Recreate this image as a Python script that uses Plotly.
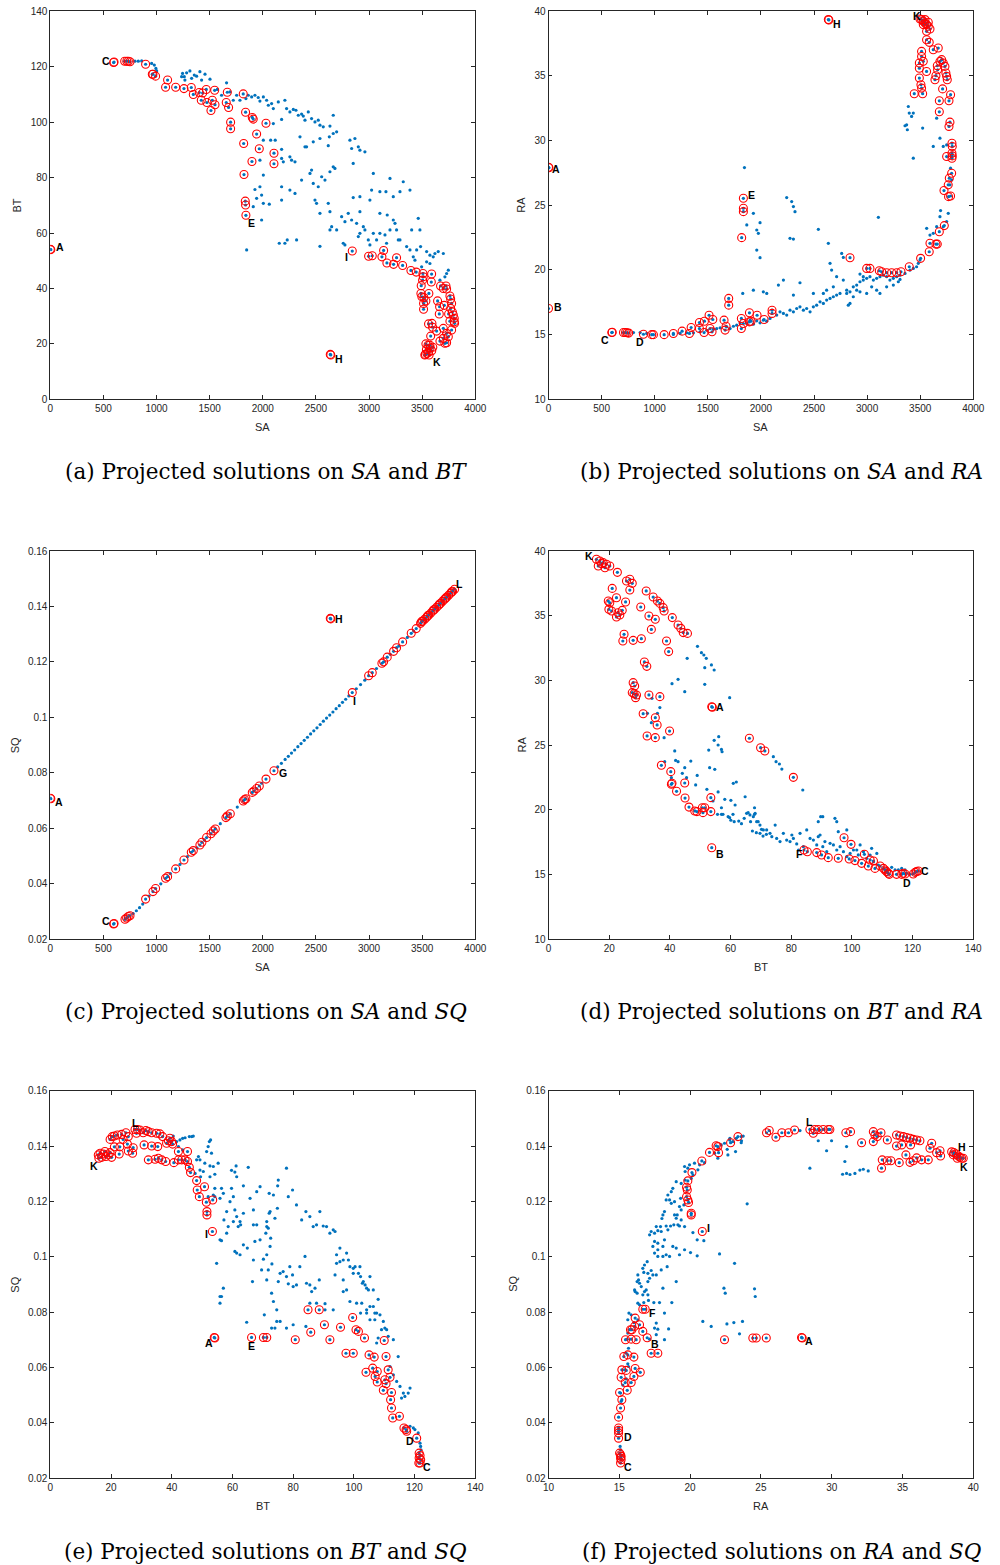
import plotly.graph_objects as go

# ---------------- data ----------------
# Panel (a): SA vs BT
A_RED = [(596,121.5),(600,121.7),(700,122),(720,122),(735,122),(750,121.8),(897,120.9),(960,117.3),(966,117.3),(991,116.6),
 (1104,115.2),(1085,112.6),(1180,112.6),(1258,112.1),(1327,112.5),(1346,110),(1402,110.7),(1434,110.5),(1468,111.8),
 (1421,107.9),(1474,107.1),(1525,107.9),(1550,106.3),(1512,104.2),(1547,111.5),(1666,110.8),(1656,107.1),(1678,105.3),
 (1816,110.2),(1838,103.6),(1901,101.7),(1910,101.1),(1697,100),(1697,97.6),(2030,99.6),(1942,95.7),(1820,92.3),
 (1967,90.4),(2105,88.8),(2105,85),(1898,85.8),(1823,81.1),(1835,71.5),(1838,70.1),(1841,66.4),(0,54.1),(5,54.0),
 (2635,16.2),(2640,16.0),(2842,53.5),(2996,51.6),(3030,51.8),(3121,51.4),(3137,53.7),(3168,49.2),(3231,48.7),(3259,51.1),
 (3316,48.3),(3394,46.5),(3444,45.9),(3507,45.4),(3510,44.2),(3504,43),(3589,45.2),(3586,42.3),(3491,41),(3488,38.2),
 (3497,37),(3516,36.7),(3535,35.5),(3513,34.6),(3513,32.5),(3563,38.2),(3645,35.5),(3664,33.4),(3661,30.8),(3708,33.9),
 (3699,40),(3724,40.9),(3730,39.8),(3673,40.9),(3761,37.3),(3768,36.2),(3777,34.6),(3768,32.8),(3784,31.5),(3793,30.4),
 (3749,30.8),(3802,29.2),(3802,28),(3805,27.4),(3761,28.2),(3777,25),(3699,25.6),(3636,24.6),(3598,26),(3560,27.2),
 (3592,27.4),(3580,22.8),(3730,23.8),(3746,22.6),(3699,22),(3667,21),(3714,20.2),(3730,20.4),(3535,20),(3573,19.5),
 (3530,16.2),(3545,16.5),(3560,17),(3540,18),(3575,18.5),(3555,19.5),(3590,17.5),(3525,16.0),(3565,16.0),(3600,18.8)]
A_BLUE = [(797,122.0),(828,122.0),(860,122.1),(954,121.2),(979,120.6),(994,119.4),(1001,118.5),(1245,117.6),(1261,116.4),
 (1283,117.8),(1314,118.5),(1330,115.8),(1355,117.0),(1377,116.6),(1408,118.2),(1424,115.2),(1456,117.3),(1503,115.5),
 (1236,116.4),(1267,115.2),(1572,111.8),(1612,109.7),(1659,114.2),(1691,110.9),(1722,107.9),(1754,109.7),(1785,107.9),
 (1841,108.5),(1863,109.7),(1895,109.1),(1926,109.7),(1957,108.9),(1973,107.6),(2005,109.1),(2036,107.9),(2052,106.1),
 (2083,106.7),(2099,104.9),(2146,107.3),(2208,107.9),(2224,104.9),(2177,101.0),(2099,99.5),(2255,103.7),(2287,104.6),
 (2312,104.3),(2334,102.5),(2365,102.9),(2381,102.2),(2397,100.7),(2428,103.7),(2459,101.3),(2491,100.1),(2522,100.7),
 (2538,98.9),(2569,98.3),(2632,98.6),(2695,96.5),(2663,102.5),(2005,93.5),(2074,93.5),(2117,93.5),(2177,90.2),(2177,86.9),
 (2193,85.7),(2255,87.5),(2271,86.3),(2303,85.7),(2350,94.7),(2397,91.1),(2412,91.1),(2475,92.9),(2538,94.1),(2616,91.5),
 (2626,94.7),(2663,95.9),(2820,93.5),(2836,90.5),(2867,94.1),(2899,91.1),(2914,89.9),(2961,89.3),(2851,85.1),(1973,86.3),
 (2005,80.9),(1973,76.7),(1989,73.7),(1926,75.7),(1942,72.5),(1910,69.5),(2005,70.7),(2061,70.4),(1989,64.7),(1848,53.9),
 (2177,76.7),(2177,71.9),(2155,56.3),(2208,56.3),(2230,57.5),(2318,57.5),(2255,75.5),(2303,74.3),(2365,79.1),(2444,81.5),
 (2459,82.7),(2475,77.9),(2522,76.7),(2554,80.3),(2585,79.1),(2632,82.1),(2663,83.9),(2679,83.3),(2491,71.9),(2506,70.7),
 (2538,67.1),(2616,70.7),(2632,67.7),(2695,61.1),(2742,65.9),(2773,64.1),(2804,67.1),(2851,72.8),(2914,73.1),(2914,67.7),
 (2836,64.7),(2883,63.5),(2632,61.1),(2648,62.3),(2538,55.2),(2757,56.3),(2773,55.7),(2899,58.7),(2914,59.9),(2946,62.3),
 (2961,61.1),(2993,57.5),(3008,55.7),(3040,59.9),(3071,57.5),(3102,59.9),(3150,59.3),(3165,56.3),(3197,61.1),(3244,63.5),
 (3259,61.1),(3275,57.5),(3008,71.9),(3024,75.5),(3040,81.5),(3102,74.9),(3159,74.9),(3197,79.7),(3228,73.1),(3291,74.9),
 (3322,78.5),(3385,75.5),(3102,67.1),(3171,66.5),(3228,64.7),(3291,57.5),(3354,55.1),(3385,53.9),(3401,61.1),(3416,51.4),
 (3432,50.2),(3448,53.9),(3463,65.3),(3479,61.1),(3485,55.1),(3542,53.3),(3573,52.0),(3604,51.4),(3620,52.6),(3651,53.3),
 (3699,52.6),(3730,45.4),(3746,46.6),(3714,44.2),(3667,43.0),(3542,49.6),(3495,47.8),(3573,49.0)]
A_LABELS = [("C",524,122.2),("A",91,55.1),("E",1895,63.5),("I",2789,51.2),("H",2720,14.4),("K",3636,13.3)]

# Panel (b): SA vs RA
B_RED = [(0,27.94),(4,27.9),(0,17.02),(596,15.16),(600,15.18),(706,15.16),(725,15.16),(740,15.14),(755,15.12),(894,15.03),
 (972,15.0),(988,15.0),(1089,15.0),(1176,15.09),(1258,15.27),(1327,15.09),(1343,15.55),(1421,15.94),(1421,15.47),(1468,16.04),
 (1465,15.16),(1512,16.5),(1547,16.17),(1521,15.47),(1540,15.22),(1653,16.12),(1672,15.65),(1663,15.35),(1697,17.8),
 (1697,17.28),(1816,16.25),(1816,15.47),(1835,15.86),(1892,16.69),(1892,15.99),(1907,16.04),(1964,16.5),(2030,16.17),
 (2105,16.89),(2105,16.64),(1835,25.54),(1835,24.77),(1835,24.51),(1819,22.5),(2635,39.36),(2640,39.33),(2839,20.95),
 (2996,20.12),(3027,20.12),(3115,19.94),(3137,19.86),(3184,19.79),(3231,19.79),(3278,19.79),(3319,19.86),(3397,20.25),
 (3504,20.9),(3592,22.06),(3585,21.41),(3648,22.0),(3661,22.0),(3680,22.96),(3727,23.43),(3724,26.14),(3764,26.58),
 (3774,27.1),(3796,27.48),(3767,25.67),(3786,25.72),(3749,28.77),(3799,29.03),(3802,28.82),(3799,28.64),(3799,29.8),
 (3802,29.55),(3780,31.43),(3771,31.1),(3680,32.23),(3680,33.08),(3771,33.08),(3786,33.55),(3711,34.0),(3639,34.71),
 (3648,35.02),(3664,35.48),(3661,35.79),(3686,36.13),(3702,36.26),(3717,36.0),(3733,35.74),(3742,35.23),(3749,34.97),
 (3755,34.71),(3670,37.16),(3623,37.03),(3585,37.6),(3560,37.8),(3560,35.35),(3529,36.13),(3513,36.9),(3513,36.5),
 (3492,36.0),(3492,35.6),(3492,34.84),(3507,34.32),(3513,34.06),(3523,33.63),(3444,33.63),(3513,39.36),(3529,39.23),
 (3545,39.1),(3560,38.97),(3576,38.84),(3592,38.63),(3545,39.36),(3576,39.15),(3529,38.97),(3498,39.41),(3560,38.45)]
B_BLUE = [(800,15.16),(863,15.16),(925,15.09),(1176,15.01),(1239,15.09),(1302,15.14),(1365,15.14),(1427,15.22),(1490,15.34),
 (1553,15.42),(1584,15.47),(1616,15.53),(1678,15.6),(1710,15.47),(1741,15.65),(1772,15.73),(1804,15.91),(1867,15.86),
 (1898,16.12),(1929,15.81),(1961,16.07),(1992,15.91),(2023,16.12),(2055,16.04),(2086,16.25),(2149,16.51),(2180,16.76),
 (2212,16.64),(2243,16.51),(2274,16.89),(2306,16.76),(2337,17.02),(2368,17.15),(2400,16.89),(2431,17.02),(2463,16.76),
 (2494,17.15),(2525,17.28),(2557,17.54),(2588,17.41),(2619,17.67),(2651,17.8),(2682,17.93),(2713,18.06),(2745,18.19),
 (2808,18.44),(2839,18.31),(2870,18.7),(2902,18.83),(2933,19.09),(2964,19.22),(2996,19.35),(3027,19.48),(3059,19.22),
 (3090,19.35),(3121,19.48),(3153,19.6),(3184,19.48),(3215,19.22),(3247,19.35),(3278,19.48),(3310,19.6),(3357,19.73),
 (3404,19.99),(3435,20.12),(3466,20.25),(3482,20.51),(3498,20.77),(1829,18.19),(1929,18.44),(2023,18.31),(2055,18.19),
 (2165,18.83),(2212,19.22),(2306,18.06),(2368,19.01),(2494,18.19),(2588,18.19),(2619,18.44),(2682,18.7),(2713,19.48),
 (2776,19.22),(2808,18.19),(2823,17.28),(2839,17.41),(2870,17.93),(2902,18.44),(2933,19.68),(2933,18.31),(2964,19.48),
 (2996,18.19),(3043,18.7),(3090,18.44),(3121,18.19),(3184,18.7),(3247,18.83),(3294,19.09),(3310,19.27),(1867,23.48),
 (1929,24.38),(1976,22.83),(1961,23.09),(1992,23.66),(1961,21.54),(1992,20.95),(2243,25.6),(2290,25.29),(2306,24.9),
 (2321,24.51),(2274,22.45),(2306,22.39),(2541,23.14),(2635,22.06),(2651,20.51),(2666,19.99),(2761,21.28),(2776,20.97),
 (3106,24.07),(3561,23.22),(3592,22.7),(3623,22.83),(3655,23.35),(3686,24.12),(3692,24.59),(3749,23.74),(3388,32.64),
 (3397,32.13),(3372,31.22),(3379,30.84),(3357,31.15),(3419,31.87),(3435,32.13),(3523,30.97),(3435,28.64),(3655,31.74),
 (3686,30.19),(3749,29.67),(3717,29.55),(3623,29.55),(3796,26.96),(3780,26.58),(3786,27.87),(3764,24.38),(3717,23.35),
 (1845,27.92)]
B_LABELS = [("K",3466,39.62),("H",2714,39.05),("A",72,27.8),("E",1914,25.8),("B",85,17.1),("C",533,14.62),("D",863,14.4)]

# Panel (c): SA vs SQ
C_RED = [(0,0.0708),(5,0.0706),(596,0.0254),(600,0.0256),(2635,0.1357),(2640,0.1355),(703,0.0271),(718,0.0276),(734,0.0281),
 (750,0.0284),(897,0.0344),(966,0.0371),(991,0.0382),(1085,0.0419),(1104,0.0425),(1180,0.0453),(1258,0.0485),(1327,0.0513),
 (1346,0.0519),(1408,0.0539),(1427,0.0549),(1471,0.0566),(1512,0.058),(1534,0.059),(1553,0.0597),(1653,0.0638),
 (1666,0.0644),(1694,0.0652),(1816,0.0698),(1829,0.0703),(1841,0.0706),(1901,0.0729),(1917,0.0734),(1942,0.0743),
 (1967,0.0752),(2030,0.0777),(2105,0.0807),(2842,0.1089),(2996,0.115),(3030,0.1161),(3121,0.1195),(3137,0.12),
 (3171,0.1217),(3231,0.1238),(3259,0.1251),(3316,0.1272),(3397,0.1303),(3444,0.132),(3485,0.1339),(3504,0.1347),
 (3523,0.1354),(3542,0.1361),(3560,0.1368),(3579,0.1375),(3598,0.1383),(3617,0.139),(3636,0.1397),(3655,0.1404),
 (3673,0.1411),(3692,0.1419),(3711,0.1426),(3730,0.1433),(3749,0.144),(3768,0.1448),(3786,0.1455),(3805,0.1462),
 (3494,0.1345),(3551,0.1366),(3607,0.1387),(3664,0.1409),(3720,0.143),(3777,0.1452)]
C_BLUE = [(780,0.0292),(810,0.0302),(840,0.0313),(870,0.0326),(930,0.0355),(1040,0.0399),(1130,0.0436),(1220,0.0469),
 (1290,0.0497),(1380,0.0529),(1450,0.0557),(1600,0.0616),(1760,0.0676),(1990,0.0762),(2140,0.0821),(2175,0.0834),
 (2210,0.0848),(2240,0.0859),(2270,0.0871),(2300,0.0882),(2330,0.0894),(2360,0.0905),(2390,0.0917),(2420,0.0928),
 (2450,0.094),(2480,0.0951),(2510,0.0962),(2540,0.0974),(2570,0.0986),(2600,0.0997),(2630,0.1008),(2660,0.1019),
 (2690,0.1031),(2720,0.1042),(2750,0.1054),(2780,0.1065),(2810,0.1077),(2880,0.1103),(2920,0.1118),(2960,0.1134),
 (3070,0.1176),(3200,0.1227),(3280,0.1257),(3360,0.1288),(3420,0.1311)]
C_LABELS = [("L",3855,0.148),("H",2720,0.1354),("I",2867,0.1059),("G",2186,0.0798),("A",82,0.0696),("C",524,0.0265)]

# Panel (d): BT vs RA
D_RED = [(15.8,39.36),(16.9,39.23),(18.0,39.1),(19.1,38.97),(16.4,38.84),(18.6,38.71),(20.2,38.84),(17.5,39.02),(22.7,38.35),
 (25.7,37.68),(26.8,37.81),(27.6,37.5),(26.8,36.98),(21.0,37.11),(19.7,36.13),(20.2,36.0),(19.9,35.49),(20.8,35.36),
 (22.4,36.39),(22.9,35.23),(22.4,34.9),(23.5,35.05),(24.3,35.41),(25.4,36.06),(30.4,35.67),(32.2,36.91),(34.5,36.44),
 (35.9,36.13),(36.7,35.95),(37.8,35.62),(38.1,35.36),(40.8,34.85),(42.7,34.28),(43.6,34.02),(44.4,33.69),(45.8,33.63),
 (33.1,34.97),(35.2,34.72),(33.9,33.94),(24.9,33.56),(24.5,33.04),(27.9,33.09),(30.6,33.22),(38.9,33.04),(39.6,32.22),
 (31.6,31.42),(32.4,31.08),(27.9,29.82),(28.4,29.56),(27.6,29.05),(28.2,28.97),(28.7,28.66),(29.0,28.87),(33.1,28.87),
 (36.7,28.74),(31.2,27.42),(35.2,27.11),(35.8,26.55),(39.9,26.08),(32.5,25.7),(35.2,25.57),(53.8,27.96),(54.0,27.92),
 (66.2,25.52),(69.9,24.79),(71.3,24.54),(37.2,23.43),(40.3,22.94),(40.5,21.96),(40.7,22.04),(42.2,21.42),(44.9,22.06),
 (45.0,20.9),(46.3,20.2),(48.2,19.9),(48.9,19.85),(50.7,20.15),(51.5,20.15),(50.9,19.77),(53.5,20.93),(53.5,19.85),
 (53.8,17.06),(80.7,22.5),(84.2,16.88),(85.3,16.75),(88.4,16.68),(90.0,16.5),(92.2,16.29),(95.5,16.24),(97.4,17.83),
 (99.7,17.32),(99.1,16.19),(101.0,16.06),(103.2,15.85),(104.1,16.55),(105.4,15.64),(106.0,16.11),(107.1,16.03),
 (107.6,15.46),(109.3,15.64),(110.4,15.46),(110.9,15.34),(111.4,15.21),(112.0,15.08),(112.3,15.0),(114.7,15.0),
 (116.4,15.0),(116.9,15.08),(117.5,15.03),(120.2,15.03),(121.3,15.21),(120.8,15.15),(121.9,15.26)]
D_BLUE = [(49.1,32.63),(50.4,32.14),(51.2,31.96),(52.0,31.7),(45.7,31.7),(51.5,30.98),(53.7,31.19),(54.6,30.8),(42.7,30.08),
 (40.7,29.74),(51.5,29.69),(44.9,29.12),(59.7,28.66),(34.1,28.61),(36.7,27.89),(35.9,27.45),(32.6,27.45),(33.9,26.73),
 (38.1,25.57),(54.6,25.36),(56.1,25.64),(55.9,25.0),(57.0,24.66),(57.2,24.48),(52.8,24.61),(41.6,24.54),(41.9,23.81),
 (42.7,23.71),(46.9,23.76),(38.3,23.71),(40.5,22.47),(44.1,22.81),(45.5,22.47),(44.9,23.25),(49.0,22.65),(53.1,23.25),
 (54.8,23.12),(61.9,22.14),(48.5,21.91),(52.2,21.57),(55.9,21.37),(58.1,20.8),(54.2,20.67),(57.0,20.15),(60.1,20.72),
 (55.7,19.64),(57.0,19.64),(57.5,19.64),(59.2,19.46),(59.7,19.38),(60.8,19.64),(60.1,19.18),(61.2,19.07),(62.7,19.12),
 (63.6,18.92),(64.5,19.33),(65.8,19.77),(66.6,19.07),(67.9,19.64),(69.1,19.07),(67.2,18.35),(68.5,18.22),(70.2,18.48),
 (70.7,17.96),(71.8,18.09),(67.9,20.15),(60.9,22.04),(64.8,21.0),(61.5,20.36),(65.3,19.72),(66.4,19.59),(68.1,19.72),
 (67.5,19.46),(68.6,19.07),(69.7,18.81),(70.8,18.43),(69.7,18.17),(71.9,18.43),(73.0,18.17),(73.6,17.91),(74.7,18.81),
 (75.2,17.78),(76.3,17.53),(77.4,18.17),(78.5,17.65),(79.6,17.53),(80.2,18.04),(80.7,17.78),(81.8,17.35),(82.4,16.88),
 (82.9,18.17),(84.0,17.14),(85.1,18.43),(86.2,17.78),(87.3,17.65),(88.4,17.27),(88.9,17.91),(89.5,18.04),(90.4,17.14),
 (91.1,17.53),(91.7,16.75),(92.8,17.4),(93.9,17.27),(95.0,16.88),(95.5,18.3),(96.1,17.14),(97.2,16.75),(98.3,18.43),
 (98.3,16.37),(99.4,16.62),(100.5,16.88),(101.6,16.88),(102.1,16.5),(102.7,17.27),(103.8,16.75),(104.9,16.24),
 (106.0,16.49),(106.5,17.01),(107.1,15.98),(108.2,16.62),(108.7,15.72),(111.4,15.34),(113.1,15.54),(114.2,15.34),
 (115.3,15.34),(116.4,15.46),(117.5,15.34),(118.0,15.08),(119.1,15.0),(74.1,24.1),(75.0,23.71),(76.1,23.53),(76.9,23.14),
 (83.8,21.52),(88.9,19.07),(89.7,19.46),(90.4,19.46),(94.4,19.33),(95.0,19.07)]
D_LABELS = [("K",13.5,39.64),("A",56.5,27.9),("B",56.5,16.6),("F",82.7,16.57),("D",118.2,14.3),("C",124.1,15.28)]

# Panel (e): BT vs SQ
E_RED = [(15.8,0.1368),(16.4,0.1374),(17.5,0.1371),(18.3,0.1362),(19.1,0.1368),(20.2,0.1359),(16.0,0.1356),(16.9,0.1359),
 (18.0,0.138),(19.7,0.1376),(19.7,0.1424),(20.4,0.1434),(21.1,0.1436),(22.1,0.144),(23.5,0.1442),(24.9,0.1448),
 (25.7,0.1434),(24.0,0.1424),(21.1,0.1397),(22.9,0.1397),(25.4,0.1407),(27.9,0.146),(28.7,0.146),(29.5,0.1458),
 (28.4,0.1446),(30.6,0.1448),(31.5,0.1456),(32.3,0.1452),(33.4,0.1448),(35.0,0.1446),(36.1,0.1444),(37.0,0.1434),
 (39.4,0.1428),(40.0,0.1416),(40.3,0.1407),(38.3,0.141),(38.9,0.1419),(30.9,0.1404),(33.4,0.14),(35.4,0.1398),
 (25.7,0.1382),(27.1,0.1374),(27.3,0.1394),(22.7,0.1371),(32.3,0.135),(34.5,0.1352),(35.6,0.1356),(36.7,0.135),
 (38.0,0.1344),(40.7,0.134),(42.2,0.135),(43.3,0.135),(44.4,0.135),(45.2,0.1344),(45.2,0.138),(42.2,0.138),
 (45.8,0.1323),(46.2,0.1304),(48.2,0.1275),(48.4,0.1241),(49.1,0.1217),(50.8,0.1253),(51.4,0.1197),(51.6,0.1163),
 (51.6,0.1151),(53.5,0.1205),(53.4,0.1091),(54.0,0.0708),(54.2,0.0706),(66.3,0.0708),(70.2,0.0708),(71.3,0.0708),
 (80.7,0.07),(84.9,0.0808),(88.6,0.0808),(85.8,0.0727),(90.3,0.0754),(92.1,0.07),(95.6,0.0745),(97.4,0.0651),
 (99.8,0.0651),(99.6,0.078),(100.7,0.0736),(101.5,0.073),(103.5,0.0706),(104.0,0.0582),(105.0,0.0645),(106.2,0.0597),
 (106.7,0.0637),(107.0,0.0567),(107.7,0.0585),(107.7,0.0547),(109.7,0.0517),(110.0,0.0697),(110.2,0.0555),
 (110.6,0.0541),(110.6,0.0639),(111.3,0.0591),(111.9,0.0564),(112.1,0.0483),(112.4,0.0509),(112.4,0.0453),
 (112.8,0.0417),(115.0,0.0423),(116.5,0.0381),(117.2,0.0375),(117.4,0.0369),(120.7,0.0344),(121.5,0.029),
 (121.8,0.0281),(121.5,0.0272),(122.0,0.0266),(121.4,0.0254),(121.8,0.0254)]
E_BLUE = [(40.5,0.1436),(41.6,0.1416),(42.7,0.1422),(43.6,0.1428),(44.4,0.143),(45.8,0.1434),(46.6,0.1434),(47.1,0.1436),
 (42.2,0.1398),(43.6,0.1386),(48.2,0.135),(48.8,0.1362),(49.3,0.135),(51.5,0.138),(52.0,0.1398),(52.4,0.1416),
 (52.8,0.1422),(50.9,0.1338),(52.6,0.1328),(53.7,0.1326),(54.2,0.1298),(55.3,0.1338),(53.1,0.1374),(52.6,0.1289),
 (50.4,0.1308),(47.7,0.1301),(49.3,0.1313),(49.5,0.1289),(54.2,0.1247),(53.7,0.1223),(52.0,0.1217),(54.2,0.1217),
 (56.4,0.1247),(57.0,0.1229),(55.9,0.1211),(59.2,0.1199),(59.7,0.1312),(60.8,0.1306),(61.2,0.1328),(61.4,0.1289),
 (59.7,0.1247),(60.3,0.1217),(60.3,0.1127),(61.4,0.1145),(62.5,0.1127),(62.7,0.1115),(61.9,0.1109),(63.6,0.1157),
 (65.2,0.1323),(63.6,0.1256),(65.8,0.1211),(66.9,0.1169),(68.0,0.1115),(58.1,0.1163),(58.6,0.1109),(58.1,0.1085),
 (57.2,0.1133),(60.8,0.1169),(55.9,0.1061),(56.4,0.1058),(54.8,0.0976),(55.9,0.0856),(56.4,0.0856),(57.0,0.0886),
 (55.9,0.0832),(61.4,0.1013),(60.8,0.1019),(62.5,0.1007),(63.6,0.1043),(64.9,0.1031),(66.9,0.0988),(66.6,0.091),
 (67.4,0.1055),(69.1,0.1061),(70.2,0.0991),(71.3,0.1007),(71.8,0.0952),(72.4,0.1037),(72.6,0.1067),(73.0,0.0974),
 (74.0,0.1139),(72.1,0.1157),(71.8,0.1103),(71.3,0.1127),(71.0,0.1085),(69.6,0.0952),(71.3,0.0916),(72.9,0.0868),
 (73.5,0.0838),(74.6,0.0808),(75.7,0.0766),(75.1,0.091),(75.7,0.094),(76.7,0.0946),(77.8,0.0928),(78.9,0.0964),
 (79.8,0.0934),(78.4,0.0902),(80.0,0.0892),(81.1,0.0898),(82.2,0.0964),(83.9,0.1001),(84.4,0.0904),(85.5,0.0898),
 (86.1,0.0874),(87.2,0.0886),(88.6,0.0916),(85.5,0.0832),(87.7,0.0832),(90.5,0.083),(90.5,0.0808),(93.2,0.0808),
 (93.8,0.0934),(94.3,0.0976),(95.4,0.0982),(96.5,0.0916),(97.6,0.088),(97.6,0.1013),(99.8,0.094),(101.5,0.094),
 (102.2,0.0928),(103.1,0.091),(103.7,0.0898),(105.3,0.0928),(100.4,0.0964),(102.0,0.0964),(102.8,0.0904),(104.2,0.0886),
 (104.8,0.088),(105.3,0.082),(106.4,0.082),(106.9,0.0796),(107.5,0.0796),(108.6,0.079),(109.7,0.0766),(110.2,0.0742),
 (106.9,0.0772),(109.1,0.0736),(108.0,0.0706),(107.5,0.0688),(113.0,0.07),(114.6,0.0639),(111.9,0.0603),(113.0,0.0573),
 (114.1,0.0549),(115.2,0.0531),(116.3,0.0507),(116.8,0.0495),(115.7,0.0489),(117.9,0.0507),(118.5,0.0525),(120.1,0.0375),
 (121.2,0.0363),(119.6,0.0381),(118.5,0.0387),(121.8,0.0326),(122.0,0.0314),(122.1,0.0302),(74.9,0.1256),(75.1,0.1277),
 (77.8,0.132),(78.4,0.1217),(79.8,0.1241),(81.1,0.1187),(82.8,0.1133),(84.2,0.1163),(85.5,0.1145),(86.6,0.1109),
 (87.7,0.1115),(88.8,0.1163),(89.9,0.1111),(91.0,0.1109),(92.1,0.1085),(93.2,0.1097),(93.8,0.1091),(94.3,0.1007),
 (95.4,0.1031),(96.5,0.0988),(98.2,0.0988),(98.7,0.0964),(99.8,0.0958),(71.3,0.1109),(68.0,0.1235),(69.1,0.1253),
 (72.1,0.1229),(73.5,0.1223),(74.8,0.1175),(72.4,0.1163),(66.9,0.1115),(96.5,0.0874),(98.7,0.0838),(100.9,0.0832),
 (102.2,0.0796),(104.2,0.0796),(105.3,0.0772),(104.2,0.0808),(102.6,0.0832),(108.0,0.0846),(106.4,0.088),(110.8,0.0736),
 (111.3,0.0712),(64.7,0.0763),(80.0,0.0754),(77.8,0.0742),(84.2,0.0748),(72.9,0.0742),(74.0,0.0742),(70.5,0.079),
 (74.6,0.0766)]
E_LABELS = [("L",28.1,0.1485),("K",14.4,0.1328),("I",51.3,0.1082),("A",52.2,0.0688),("E",66.3,0.0676),("D",118.5,0.0335),("C",124.0,0.0239)]

# Panel (f): RA vs SQ
F_RED = [(21.84,0.1401),(21.96,0.1398),(22.01,0.1376),(21.37,0.1377),(20.83,0.1346),(20.13,0.1304),(19.84,0.1274),
 (19.75,0.1251),(19.8,0.1241),(19.75,0.1217),(19.84,0.1205),(19.89,0.1196),(20.08,0.1157),(20.08,0.1151),(20.86,0.1091),
 (22.86,0.1412),(23.38,0.1434),(16.66,0.081),(16.83,0.081),(16.12,0.0778),(16.43,0.0754),(16.08,0.0748),(15.89,0.0736),
 (15.79,0.0736),(16.66,0.073),(16.97,0.0707),(15.44,0.07),(15.84,0.0702),(16.19,0.07),(17.25,0.0651),(17.72,0.0651),
 (15.32,0.0639),(15.6,0.0645),(16.03,0.0637),(15.18,0.0591),(15.49,0.0589),(16.12,0.0596),(16.48,0.0582),(16.03,0.0567),
 (15.84,0.0545),(15.13,0.0564),(15.42,0.0545),(15.56,0.0517),(15.02,0.0509),(15.18,0.0483),(15.09,0.0453),(14.95,0.042),
 (14.95,0.0381),(14.95,0.0372),(14.95,0.0363),(14.95,0.0344),(15.02,0.029),(15.09,0.0284),(15.13,0.0278),(15.09,0.0272),
 (15.13,0.0266),(15.09,0.0254),(22.43,0.07),(24.43,0.0706),(24.67,0.0706),(25.38,0.0706),(27.87,0.0708),(27.92,0.0706),
 (25.4,0.1448),(25.59,0.1456),(26.06,0.1432),(26.48,0.1448),(26.95,0.1448),(27.38,0.1458),(28.46,0.146),(28.7,0.1446),
 (28.81,0.146),(29.05,0.146),(29.4,0.146),(29.76,0.146),(29.87,0.146),(31.0,0.1448),(31.33,0.1452),(32.11,0.1412),
 (32.94,0.1452),(33.05,0.144),(33.48,0.1448),(32.94,0.1416),(33.22,0.1434),(33.93,0.1422),(34.58,0.144),(34.82,0.1436),
 (35.06,0.1434),(35.29,0.1431),(35.53,0.1428),(35.76,0.1424),(36.0,0.1422),(36.23,0.1419),(34.58,0.14),(34.94,0.1404),
 (35.57,0.1404),(37.06,0.141),(36.94,0.1392),(37.41,0.1376),(37.65,0.1383),(37.69,0.1364),(33.57,0.135),(33.93,0.1347),
 (34.18,0.1347),(33.52,0.132),(34.77,0.134),(35.24,0.1368),(35.53,0.1341),(35.76,0.1347),(36.0,0.1357),(36.35,0.135),
 (36.82,0.135),(38.47,0.1379),(38.63,0.1376),(38.78,0.1371),(38.94,0.1364),(39.06,0.1359),(39.18,0.1356),(39.29,0.1356),
 (38.87,0.1356),(38.59,0.1368)]
F_BLUE = [(22.2,0.1404),(22.43,0.141),(22.79,0.1422),(23.02,0.1416),(23.26,0.1428),(23.61,0.1434),(22.62,0.1388),
 (22.67,0.1368),(21.96,0.1356),(21.73,0.1374),(23.61,0.1412),(21.02,0.134),(20.67,0.1332),(20.31,0.1338),(20.55,0.1314),
 (19.96,0.1332),(19.84,0.132),(19.61,0.1326),(19.65,0.1308),(20.2,0.1296),(20.08,0.1283),(19.65,0.1277),(19.37,0.1265),
 (19.02,0.1271),(18.78,0.1247),(18.67,0.1235),(18.43,0.1223),(18.31,0.1205),(18.55,0.1205),(18.67,0.1193),(18.9,0.1199),
 (19.33,0.1211),(19.56,0.1187),(19.25,0.1181),(19.37,0.1169),(19.09,0.1151),(18.9,0.1151),(19.02,0.1139),(18.19,0.1163),
 (18.08,0.1151),(18.01,0.1138),(17.91,0.1109),(18.31,0.1111),(18.62,0.1111),(18.85,0.1115),(19.14,0.1115),(19.25,0.1111),
 (19.37,0.1133),(19.61,0.1109),(17.61,0.1109),(17.72,0.1094),(17.25,0.1091),(17.14,0.1079),(17.49,0.1085),(17.96,0.1091),
 (18.43,0.1097),(17.49,0.1055),(17.72,0.1049),(18.19,0.1061),(18.08,0.1037),(17.72,0.1025),(17.37,0.1037),(17.49,0.1013),
 (17.72,0.1001),(18.08,0.1001),(18.31,0.1007),(18.55,0.1001),(18.78,0.1037),(19.02,0.1031),(19.25,0.1007),(19.61,0.1025),
 (20.2,0.1087),(20.5,0.1061),(20.97,0.1058),(20.03,0.1015),(20.5,0.1003),(22.08,0.101),(16.97,0.0982),(16.78,0.097),
 (16.66,0.0958),(16.73,0.0943),(17.02,0.094),(17.25,0.095),(17.37,0.0934),(17.14,0.0922),(17.02,0.091),(17.61,0.0934),
 (17.96,0.0952),(18.38,0.0964),(19.02,0.091),(16.31,0.0934),(16.36,0.0916),(16.26,0.091),(16.43,0.0904),(16.08,0.088),
 (16.12,0.0874),(16.26,0.0868),(16.55,0.0892),(16.78,0.0874),(17.02,0.0862),(16.9,0.088),(16.66,0.0862),(16.31,0.0832),
 (16.43,0.0826),(16.73,0.0834),(17.06,0.0842),(17.44,0.0834),(17.84,0.0834),(18.08,0.0886),(18.71,0.0834),(18.19,0.0796),
 (17.61,0.076),(17.49,0.0742),(17.72,0.0738),(18.48,0.0739),(15.68,0.0796),(15.6,0.0772),(15.84,0.079),(16.03,0.0762),
 (15.72,0.0736),(15.6,0.0724),(15.56,0.0702),(17.61,0.0718),(18.19,0.07),(17.14,0.0702),(16.31,0.0772),(15.65,0.0669),
 (15.49,0.0651),(15.6,0.0613),(15.37,0.0591),(15.65,0.0603),(15.49,0.0558),(15.25,0.0536),(15.09,0.0507),(15.13,0.0477),
 (15.06,0.0314),(15.09,0.0302),(24.03,0.1191),(23.14,0.0976),(22.39,0.0886),(22.48,0.0868),(24.55,0.0884),(24.6,0.0856),
 (20.9,0.0766),(21.49,0.0748),(22.6,0.0757),(23.09,0.0762),(23.7,0.0766),(23.49,0.0721),(22.81,0.1428),(23.21,0.138),
 (23.63,0.1419),(23.75,0.1436),(28.46,0.132),(29.05,0.1419),(29.64,0.1383),(29.99,0.1419),(30.93,0.1344),(30.77,0.1298),
 (31.05,0.1301),(31.29,0.1297),(31.64,0.1301),(31.99,0.1313),(32.23,0.1316),(32.58,0.131),(31.05,0.1398),(29.17,0.1458),
 (27.76,0.1456)]
F_LABELS = [("L",28.46,0.1486),("H",39.18,0.1398),("K",39.36,0.1323),("I",21.33,0.1105),("F",17.32,0.0796),("B",17.51,0.0684),
 ("A",28.41,0.0694),("D",15.58,0.0348),("C",15.63,0.0239)]

# axes
SA_TICKS = [0,500,1000,1500,2000,2500,3000,3500,4000]
BT_TICKS = [0,20,40,60,80,100,120,140]
RA_TICKS = [10,15,20,25,30,35,40]
SQ_TICKS = [0.02,0.04,0.06,0.08,0.1,0.12,0.14,0.16]
SQ_TICKTEXT = ["0.02","0.04","0.06","0.08","0.1","0.12","0.14","0.16"]

CAPTIONS = ["(a) Projected solutions on <i>SA</i> and <i>BT</i>",
            "(b) Projected solutions on <i>SA</i> and <i>RA</i>",
            "(c) Projected solutions on <i>SA</i> and <i>SQ</i>",
            "(d) Projected solutions on <i>BT</i> and <i>RA</i>",
            "(e) Projected solutions on <i>BT</i> and <i>SQ</i>",
            "(f) Projected solutions on <i>RA</i> and <i>SQ</i>"]

# ---------------- figure ----------------
W, H = 1000, 1565
XPIX = [(50.3, 475.3), (548.5, 973.3)]
ROWS = [(11.3, 399.3), (551.0, 939.0), (1090.7, 1478.0)]
XDOM = [[a/W, b/W] for (a, b) in XPIX]
YDOM = [[1-b/H, 1-t/H] for (t, b) in ROWS]
YTITLE_OFF = {"BT": 33, "RA": 27, "SQ": 35}

panels = [
    dict(red=A_RED, blue=A_BLUE, labels=A_LABELS, xt="SA", yt="BT", xr=[0,4000], yr=[0,140], xtv=SA_TICKS, ytv=BT_TICKS),
    dict(red=B_RED, blue=B_BLUE, labels=B_LABELS, xt="SA", yt="RA", xr=[0,4000], yr=[10,40], xtv=SA_TICKS, ytv=RA_TICKS),
    dict(red=C_RED, blue=C_BLUE, labels=C_LABELS, xt="SA", yt="SQ", xr=[0,4000], yr=[0.02,0.16], xtv=SA_TICKS, ytv=SQ_TICKS),
    dict(red=D_RED, blue=D_BLUE, labels=D_LABELS, xt="BT", yt="RA", xr=[0,140], yr=[10,40], xtv=BT_TICKS, ytv=RA_TICKS),
    dict(red=E_RED, blue=E_BLUE, labels=E_LABELS, xt="BT", yt="SQ", xr=[0,140], yr=[0.02,0.16], xtv=BT_TICKS, ytv=SQ_TICKS),
    dict(red=F_RED, blue=F_BLUE, labels=F_LABELS, xt="RA", yt="SQ", xr=[10,40], yr=[0.02,0.16], xtv=RA_TICKS, ytv=SQ_TICKS),
]

fig = go.Figure()
AX = "#262626"
SANS = "Liberation Sans, Arial, sans-serif"
TICKFONT = dict(family=SANS, size=10, color=AX)
annotations = []
layout = {}
for i, p in enumerate(panels):
    n = i + 1
    xs = "x" if n == 1 else f"x{n}"
    ys = "y" if n == 1 else f"y{n}"
    col = i % 2
    row = i // 2
    bx = [q[0] for q in p["blue"]] + [q[0] for q in p["red"]]
    by = [q[1] for q in p["blue"]] + [q[1] for q in p["red"]]
    fig.add_trace(go.Scatter(x=bx, y=by, mode="markers", xaxis=xs, yaxis=ys, showlegend=False,
                             marker=dict(size=3.2, color="#0072BD", line=dict(width=0)), hoverinfo="skip"))
    fig.add_trace(go.Scatter(x=[q[0] for q in p["red"]], y=[q[1] for q in p["red"]], mode="markers",
                             xaxis=xs, yaxis=ys, showlegend=False,
                             marker=dict(size=8, symbol="circle-open", color="#FF0000", line=dict(width=1.1, color="#FF0000")),
                             hoverinfo="skip"))
    common = dict(showline=True, linecolor=AX, linewidth=0.8, mirror="ticks", ticks="inside", ticklen=4,
                  tickcolor=AX, tickwidth=0.8, showgrid=False, zeroline=False, tickfont=TICKFONT, automargin=False)
    layout["xaxis" if n == 1 else f"xaxis{n}"] = dict(domain=XDOM[col], anchor=ys, range=p["xr"], tickvals=p["xtv"], **common)
    ykw = dict(domain=YDOM[row], anchor=xs, range=p["yr"], tickvals=p["ytv"], **common)
    if p["yt"] == "SQ":
        ykw["ticktext"] = SQ_TICKTEXT
    layout["yaxis" if n == 1 else f"yaxis{n}"] = ykw
    # axis titles
    x0, x1 = XPIX[col]
    t0, t1 = ROWS[row]
    annotations.append(dict(x=(x0+x1)/2/W, y=1-(t1+28)/H, xref="paper", yref="paper", text=p["xt"], showarrow=False,
                            font=dict(family=SANS, size=11, color=AX), xanchor="center", yanchor="middle"))
    annotations.append(dict(x=(x0-YTITLE_OFF[p["yt"]])/W, y=1-(t0+t1)/2/H, xref="paper", yref="paper", text=p["yt"],
                            showarrow=False, textangle=-90, font=dict(family=SANS, size=11, color=AX),
                            xanchor="center", yanchor="middle"))
    for (t, lx, ly) in p["labels"]:
        annotations.append(dict(x=lx, y=ly, xref=xs, yref=ys, text=f"<b>{t}</b>", showarrow=False,
                                font=dict(family=SANS, size=10.5, color="black"),
                                xanchor="center", yanchor="middle"))

CAP_Y = [471, 1011, 1551]
CAP_X = [265.5, 781]
for i, c in enumerate(CAPTIONS):
    annotations.append(dict(x=CAP_X[i % 2]/W, y=1-CAP_Y[i//2]/H, xref="paper", yref="paper", text=c, showarrow=False,
                            font=dict(family="DejaVu Serif, Liberation Serif, serif", size=21.5, color="black"),
                            xanchor="center", yanchor="middle"))

fig.update_layout(width=W, height=H, margin=dict(l=0, r=0, t=0, b=0), paper_bgcolor="white", plot_bgcolor="white",
                  annotations=annotations, **layout)
fig.write_html("out.html", config={"displayModeBar": False},
               post_script="document.body.style.margin='0px';")
